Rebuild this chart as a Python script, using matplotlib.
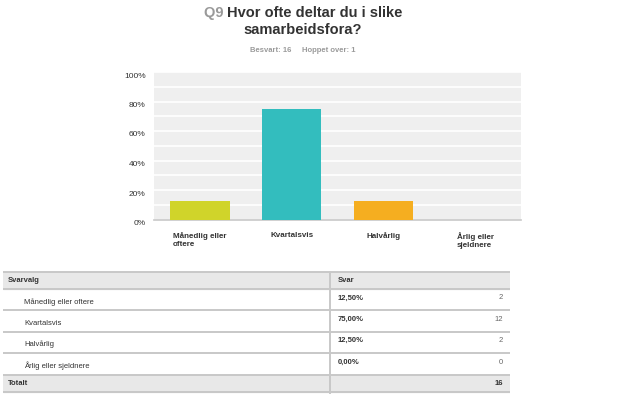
import numpy as np
import matplotlib.pyplot as plt
from matplotlib.transforms import ScaledTranslation

# data
categories = ["Månedlig eller\noftere", "Kvartalsvis", "Halvårlig", "Årlig eller\nsjeldnere"]
table_labels = ["Månedlig eller oftere", "Kvartalsvis", "Halvårlig", "Årlig eller sjeldnere"]
percent = [12.5, 75.0, 12.5, 0.0]
counts = [2, 12, 2, 0]
answered = 16
skipped = 1
colors = ["#d0d42a", "#33bdbe", "#f5ae20", "#8e6fb0"]

plt.rcParams['font.family'] = ['Liberation Sans', 'DejaVu Sans']

W, H = 617, 418
fig = plt.figure(figsize=(W / 100, H / 100), dpi=100)

def px_axes(x0, y0, x1, y1):
    return fig.add_axes([x0 / W, 1 - y1 / H, (x1 - x0) / W, (y1 - y0) / H])

# title: grey "Q9" followed by dark question text, centred as one line
renderer = fig.canvas.get_renderer()
tfs = 10.5
q = fig.text(0, 1 - 13 / H, "Q9 ", color="#9a9a9a", fontsize=tfs, fontweight="bold",
             va="center")
t = fig.text(0, 1 - 13 / H, "Hvor ofte deltar du i slike", color="#333333",
             fontsize=tfs, fontweight="bold", va="center")
wq = q.get_window_extent(renderer).width
wt = t.get_window_extent(renderer).width
x0 = 303 - (wq + wt) / 2
q.set_x(x0 / W)
t.set_x((x0 + wq) / W)
fig.text(303 / W, 1 - 30.5 / H, "samarbeidsfora?", color="#333333", fontsize=tfs,
         fontweight="bold", ha="center", va="center")
fig.text(303 / W, 1 - 51 / H, f"Besvart: {answered}     Hoppet over: {skipped}",
         color="#9a9a9a", fontsize=5.5, fontweight="bold", ha="center", va="center")

# bar chart
ax = px_axes(154, 72, 521, 219.5)
ax.set_facecolor("#efefef")
x = np.arange(len(categories))
ax.bar(x, percent, width=0.65, color=colors, zorder=3)
ax.set_xlim(-0.5, len(categories) - 0.5)
ax.set_ylim(0, 100)
ax.set_yticks(np.arange(0, 101, 20))
ax.set_yticks(np.arange(10, 100, 20), minor=True)
ax.set_yticklabels([f"{v}%" for v in range(0, 101, 20)], fontsize=6, color="#333333")
ax.grid(axis="y", which="both", color="white", linewidth=1.2, zorder=1)
ax.tick_params(axis="y", which="both", length=0, pad=6)
shift = ScaledTranslation(0, -3 / 100, fig.dpi_scale_trans)
for lab in ax.get_yticklabels():
    lab.set_transform(lab.get_transform() + shift)
ax.set_xticks(x)
ax.set_xticklabels(categories, fontsize=5.8, fontweight="bold", color="#333333", va="top")
for lab in ax.get_xticklabels():
    lab.set_multialignment("left")
ax.tick_params(axis="x", length=0, pad=9)
for s in ["top", "left", "right"]:
    ax.spines[s].set_visible(False)
ax.spines["bottom"].set_color("#c8c8c8")
ax.spines["bottom"].set_linewidth(1.2)

# table
tax = px_axes(3, 271, 510, 394)
tax.set_xlim(0, 507)
tax.set_ylim(123, 0)
tax.axis("off")
header_h, row_h, total_h = 17, 21.4, 17
split = 327
line_c = "#c8c8c8"
text_c = "#333333"

edges = [1, 1 + header_h]
for _ in table_labels:
    edges.append(edges[-1] + row_h)
edges.append(edges[-1] + total_h)

tax.axhspan(edges[0], edges[1], color="#e8e8e8", zorder=1)
tax.axhspan(edges[-2], edges[-1], color="#e8e8e8", zorder=1)
for e in edges:
    tax.axhline(e, color=line_c, linewidth=1.4, zorder=2)
tax.axvline(split, ymin=0, ymax=1, color=line_c, linewidth=1.4, zorder=2)

fs = 5.5
ymid = (edges[0] + edges[1]) / 2
tax.text(5, ymid, "Svarvalg", fontsize=fs, fontweight="bold", color=text_c, va="center")
tax.text(split + 8, ymid, "Svar", fontsize=fs, fontweight="bold", color=text_c, va="center")
for i, (lab, p, c) in enumerate(zip(table_labels, percent, counts)):
    top = edges[i + 1]
    tax.text(21, top + row_h * 0.6, lab, fontsize=fs, color=text_c, va="center")
    tax.text(split + 8, top + row_h * 0.42, f"{p:.2f}%".replace(".", ","), fontsize=fs,
             fontweight="bold", color=text_c, va="center")
    tax.text(500, top + row_h * 0.42, str(c), fontsize=fs, color="#666666",
             va="center", ha="right")
ymid = (edges[-2] + edges[-1]) / 2
tax.text(5, ymid, "Totalt", fontsize=fs, fontweight="bold", color=text_c, va="center")
tax.text(500, ymid, str(sum(counts)), fontsize=fs, fontweight="bold", color=text_c,
         va="center", ha="right")

fig.savefig("out.png", dpi=100)
